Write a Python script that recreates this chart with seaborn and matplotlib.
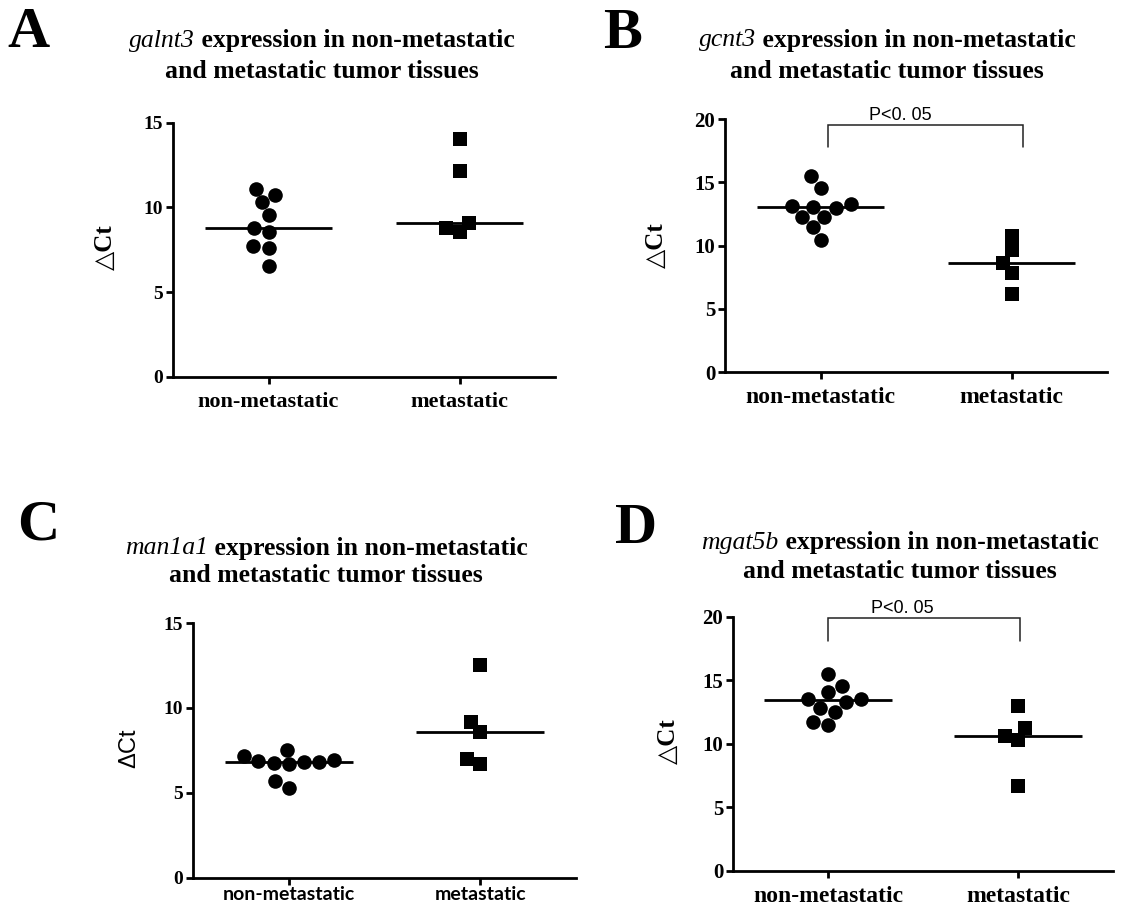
import numpy as np
import pandas as pd
import matplotlib
matplotlib.use("Agg")
import matplotlib.pyplot as plt
import seaborn as sns

# ---------------- data ----------------
CATS = ["non-metastatic", "metastatic"]
GENES = ["galnt3", "gcnt3", "man1a1", "mgat5b"]
LETTERS = ["A", "B", "C", "D"]

galnt3_nonmet = [11.10, 10.73, 10.30, 9.53, 8.80, 8.52, 7.74, 7.58, 6.54]
galnt3_met = [14.04, 12.17, 9.09, 8.76, 8.54]

gcnt3_nonmet = [13.29, 13.05, 12.24, 12.24, 14.55, 15.47, 12.97, 11.45, 13.13, 10.45]
gcnt3_met = [10.76, 9.66, 8.63, 7.82, 6.13]

man1a1_nonmet = [6.91, 6.83, 6.85, 7.52, 6.67, 5.31, 6.77, 5.71, 6.83, 7.19]
man1a1_met = [12.52, 9.17, 8.58, 6.99, 6.69]

mgat5b_nonmet = [13.53, 12.53, 13.30, 15.45, 14.05, 12.82, 11.50, 14.55, 13.53, 11.74]
mgat5b_met = [12.95, 11.21, 10.63, 10.32, 6.63]

Y_MAX = [15, 20, 15, 20]
Y_TICKS = [[0, 5, 10, 15], [0, 5, 10, 15, 20], [0, 5, 10, 15], [0, 5, 10, 15, 20]]
P_LABEL = [None, "P<0. 05", None, "P<0. 05"]

# ---------------- style ----------------
sns.set_style("ticks")
SERIF = ["Liberation Serif", "DejaVu Sans"]
plt.rcParams["font.family"] = SERIF
plt.rcParams["font.weight"] = "bold"
for k in ["text.color", "axes.labelcolor", "xtick.color", "ytick.color", "axes.edgecolor"]:
    plt.rcParams[k] = "black"

W, H = 1146, 909
fig = plt.figure(figsize=(W / 100, H / 100), dpi=100)
fig.patch.set_facecolor("white")
renderer = fig.canvas.get_renderer()

def fx(px):
    return px / W

def fy(py):
    return 1 - py / H

boxes = [
    (173, 555, 122.7, 376.7),
    (725, 1107, 119.0, 372.0),
    (193, 576, 623.0, 877.7),
    (733, 1113, 616.7, 870.7),
]

datasets = [
    (galnt3_nonmet, galnt3_met),
    (gcnt3_nonmet, gcnt3_met),
    (man1a1_nonmet, man1a1_met),
    (mgat5b_nonmet, mgat5b_met),
]

title_pos = [(322, 41, 72), (887, 40, 71), (326, 548, 576), (900, 543, 572)]
letter_pos = [(28, 33), (623, 34), (38, 526), (636, 529)]
ylabel_pos = [(-0.147, 0.51), (-0.149, 0.50), (-0.138, 0.51), (-0.14, 0.51)]
xlab_size = [16, 17, 14, 17]
xlab_pad = [6, 6, 1, 6]
ytick_size = [14, 15, 14, 15]
bracket = [None, (0.04, 1.06, 19.5, 17.8, 0.42, 19.62), None, (0.0, 1.01, 19.9, 18.1, 0.39, 19.98)]
TITLE_SIZE = 18.5

for i, (nonmet, met) in enumerate(datasets):
    l, r, t, b = boxes[i]
    ax = fig.add_axes([fx(l), fy(b), (r - l) / W, (b - t) / H])
    df = pd.DataFrame({
        "group": [CATS[0]] * len(nonmet) + [CATS[1]] * len(met),
        "dct": list(nonmet) + list(met),
    })
    sns.boxplot(data=df, x="group", y="dct", order=CATS, width=0.67,
                showbox=False, showcaps=False, showfliers=False,
                whiskerprops={"visible": False},
                medianprops={"color": "black", "linewidth": 2.0},
                ax=ax)
    sns.swarmplot(data=df[df.group == CATS[0]], x="group", y="dct", order=CATS,
                  marker="o", color="black", size=10.5, ax=ax)
    sns.swarmplot(data=df[df.group == CATS[1]], x="group", y="dct", order=CATS,
                  marker="s", color="black", size=9.5, ax=ax)
    ax.set_xlim(-0.5, 1.5)
    ax.set_ylim(0, Y_MAX[i])
    ax.set_yticks(Y_TICKS[i])
    ax.set_xlabel("")
    for s in ["top", "right"]:
        ax.spines[s].set_visible(False)
    for s in ["left", "bottom"]:
        ax.spines[s].set_linewidth(2.0)
        ax.spines[s].set_color("black")
    ax.tick_params(axis="both", length=5, width=2.0, color="black",
                   labelcolor="black", direction="out")
    ax.tick_params(axis="x", pad=xlab_pad[i])
    ax.tick_params(axis="y", pad=2)

    if i == 2:
        xfont = dict(family=["Lato", "DejaVu Sans"], weight="bold", size=xlab_size[i])
        ax.set_ylabel("ΔCt", family=["Liberation Sans", "DejaVu Sans"],
                      weight="normal", fontsize=17, color="black")
    else:
        xfont = dict(family=SERIF, weight="bold", size=xlab_size[i])
        ax.set_ylabel("△Ct", family=SERIF, weight="bold", fontsize=18, color="black")
    ax.set_xticks([0, 1])
    ax.set_xticklabels(CATS, **xfont)
    for lab in ax.get_yticklabels():
        lab.set_fontsize(ytick_size[i])
        lab.set_fontweight("bold")
        lab.set_family(SERIF)
    ax.yaxis.set_label_coords(*ylabel_pos[i])

    if bracket[i] is not None:
        x0, x1, ytop, ybot, tx, ty = bracket[i]
        ax.plot([x0, x0, x1, x1], [ybot, ytop, ytop, ybot], color="#222222",
                lw=1.1, clip_on=False, solid_joinstyle="miter")
        ax.text(tx, ty, P_LABEL[i], ha="center", va="bottom", fontsize=13,
                family=["Liberation Sans", "DejaVu Sans"], weight="normal",
                color="black", clip_on=False)

    # title: italic gene name + bold rest, centred together
    cx, y1, y2 = title_pos[i]
    t_gene = fig.text(0, fy(y1), GENES[i], ha="left", va="center",
                      fontsize=TITLE_SIZE, style="italic", weight="normal", color="black")
    t_rest = fig.text(0, fy(y1), " expression in non-metastatic", ha="left",
                      va="center", fontsize=TITLE_SIZE, weight="bold", color="black")
    w1 = t_gene.get_window_extent(renderer).width
    w2 = t_rest.get_window_extent(renderer).width
    start = cx - (w1 + w2) / 2
    t_gene.set_x(fx(start))
    t_rest.set_x(fx(start + w1))
    fig.text(fx(cx), fy(y2), "and metastatic tumor tissues",
             ha="center", va="center", fontsize=TITLE_SIZE, weight="bold", color="black")
    lx, ly = letter_pos[i]
    fig.text(fx(lx), fy(ly), LETTERS[i], ha="center", va="center",
             fontsize=42, weight="bold", color="black")

fig.savefig("out.png", dpi=100, facecolor="white")
